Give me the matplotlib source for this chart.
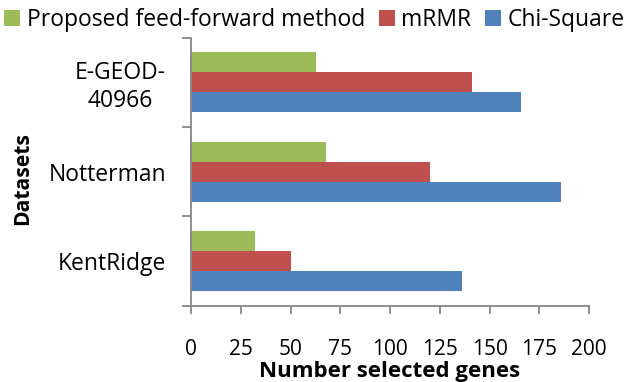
import matplotlib
matplotlib.use("Agg")
import matplotlib.pyplot as plt
import numpy as np

plt.rcParams['font.family'] = ['Open Sans', 'DejaVu Sans']

datasets = ['KentRidge', 'Notterman', 'E-GEOD-\n40966']
proposed = [32, 68, 63]
mrmr = [50, 120, 141]
chi_square = [136, 186, 166]

green = '#9BBB59'
red = '#C0504D'
blue = '#4F81BD'
grey = '#868686'

fig = plt.figure(figsize=(6.29, 3.82), dpi=100)
ax = fig.add_axes([191/629, 1 - 305.7/382, 398/629, 268/382])

y = np.arange(len(datasets))
h = 0.224
ax.barh(y - h, chi_square, height=h, color=blue, label='Chi-Square')
ax.barh(y, mrmr, height=h, color=red, label='mRMR')
ax.barh(y + h, proposed, height=h, color=green, label='Proposed feed-forward method')

ax.set_xlim(0, 200)
ax.set_ylim(-0.5, 2.5)
ax.set_xticks(np.arange(0, 201, 25))
ax.set_yticks([-0.5, 0.5, 1.5, 2.5])
ax.set_yticklabels([])
ax.set_yticks(y, minor=True)
ax.set_yticklabels(datasets, minor=True, multialignment='center')

for s in ['top', 'right']:
    ax.spines[s].set_visible(False)
for s in ['left', 'bottom']:
    ax.spines[s].set_color(grey)
    ax.spines[s].set_linewidth(1.3)

ax.tick_params(axis='x', which='major', length=6, width=1.3, color=grey,
               labelsize=15, pad=18)
ax.tick_params(axis='y', which='major', length=6.5, width=1.3, color=grey)
ax.tick_params(axis='y', which='minor', length=0, labelsize=16.5, pad=18)

ax.set_xlabel('Number selected genes', fontsize=16, fontweight='bold')
ax.xaxis.set_label_coords(0.5, -0.208)
ax.set_ylabel('Datasets', fontsize=15.2, fontweight='bold')
ax.yaxis.set_label_coords(-0.397, 0.473)

handles, labels = ax.get_legend_handles_labels()
fig.legend(handles[::-1], labels[::-1], loc='center', bbox_to_anchor=(0.5, 0.948),
           ncol=3, frameon=False, fontsize=16.5, handlelength=0.7, handleheight=0.7,
           handletextpad=0.3, columnspacing=0.57, borderaxespad=0)

fig.savefig('out.png', dpi=100)
